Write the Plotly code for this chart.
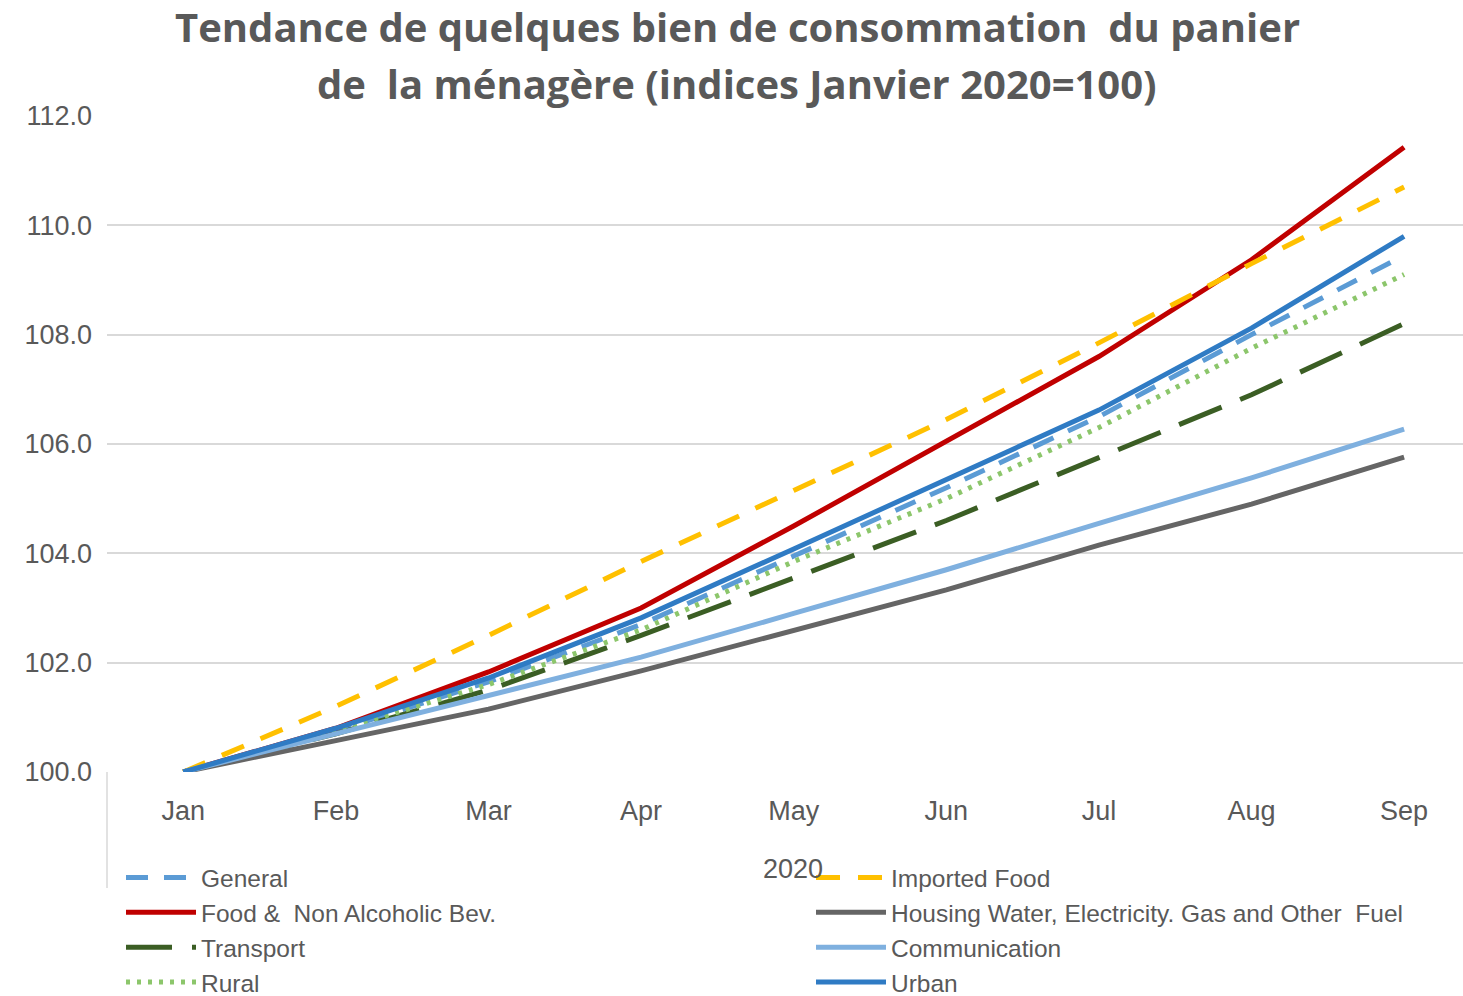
import plotly.graph_objects as go

months = ["Jan", "Feb", "Mar", "Apr", "May", "Jun", "Jul", "Aug", "Sep"]

general = [100.0, 100.75, 101.65, 102.7, 103.95, 105.2, 106.5, 108.0, 109.45]
food = [100.0, 100.8, 101.83, 103.0, 104.5, 106.05, 107.6, 109.37, 111.43]
transport = [100.0, 100.7, 101.5, 102.5, 103.55, 104.6, 105.75, 106.9, 108.2]
rural = [100.0, 100.75, 101.6, 102.6, 103.85, 105.0, 106.3, 107.75, 109.1]
imported_food = [100.0, 101.2, 102.5, 103.85, 105.15, 106.45, 107.85, 109.3, 110.7]
housing = [100.0, 100.57, 101.15, 101.85, 102.6, 103.33, 104.15, 104.9, 105.76]
communication = [100.0, 100.7, 101.4, 102.1, 102.9, 103.7, 104.55, 105.38, 106.27]
urban = [100.0, 100.8, 101.72, 102.82, 104.08, 105.34, 106.62, 108.12, 109.8]

y_ticks = [100, 102, 104, 106, 108, 110, 112]
y_ticktext = ["100.0", "102.0", "104.0", "106.0", "108.0", "110.0", "112.0"]

title_lines = ["Tendance de quelques bien de consommation  du panier",
               "de  la ménagère (indices Janvier 2020=100)"]

series = [
    # name, values, color, dash, legend column
    ("General", general, "#5B9BD5", "22px,16px", "legend"),
    ("Food &  Non Alcoholic Bev.", food, "#C00000", "solid", "legend"),
    ("Transport", transport, "#3B5E24", "46px,20px", "legend"),
    ("Rural", rural, "#8CC66B", "4px,7px", "legend"),
    ("Imported Food", imported_food, "#FFC000", "24px,18px", "legend2"),
    ("Housing Water, Electricity. Gas and Other  Fuel", housing, "#656565", "solid", "legend2"),
    ("Communication", communication, "#7FB0DF", "solid", "legend2"),
    ("Urban", urban, "#2F7BC4", "solid", "legend2"),
]

fig = go.Figure()
for name, vals, color, dash, leg in series:
    fig.add_trace(go.Scatter(
        x=months, y=vals, mode="lines", name=name,
        line=dict(color=color, width=5, dash=dash),
        legend=leg,
    ))

font_narrow = "Liberation Sans Narrow, Arial Narrow, Liberation Sans, sans-serif"

PLOT_TOP, PLOT_BOTTOM, PLOT_LEFT, PLOT_W = 116, 772, 107, 1356
PLOT_H = PLOT_BOTTOM - PLOT_TOP


def py(px):
    return (PLOT_BOTTOM - px) / PLOT_H


def pxx(px):
    return (px - PLOT_LEFT) / PLOT_W


legend_common = dict(
    orientation="v", xanchor="left",
    yref="container", y=1 - 855 / 996, yanchor="top",
    font=dict(family=font_narrow, size=24.5, color="#595959"),
    itemwidth=70, tracegroupgap=0, bgcolor="rgba(0,0,0,0)",
    traceorder="normal",
)

fig.update_layout(
    width=1463, height=996,
    paper_bgcolor="white", plot_bgcolor="white",
    margin=dict(l=PLOT_LEFT, r=0, t=PLOT_TOP, b=996 - PLOT_BOTTOM),
    xaxis=dict(
        type="category", range=[-0.5, 8.386],
        showgrid=False, showline=False, zeroline=False,
        ticks="", tickfont=dict(family=font_narrow, size=27, color="#595959"),
        ticklabelstandoff=20,
    ),
    yaxis=dict(
        range=[100, 112], tickvals=y_ticks, ticktext=y_ticktext,
        showgrid=True, gridcolor="#D9D9D9", gridwidth=2,
        zeroline=False, showline=False, ticks="",
        tickfont=dict(family=font_narrow, size=27, color="#595959"),
        ticklabelstandoff=14,
    ),
    legend=dict(x=pxx(121), **legend_common),
    legend2=dict(x=pxx(811), **legend_common),
    showlegend=True,
)

for line, ypx in zip(title_lines, [27, 83]):
    fig.add_annotation(
        text=line, xref="paper", yref="paper", x=pxx(737), y=py(ypx),
        xanchor="center", yanchor="middle", showarrow=False,
        font=dict(family="Open Sans, sans-serif", size=40, color="#595959", weight="bold"),
    )

fig.add_annotation(
    text="2020", xref="paper", yref="paper", x=pxx(793), y=py(869),
    xanchor="center", yanchor="middle", showarrow=False,
    font=dict(family=font_narrow, size=27, color="#595959"),
)

fig.add_shape(type="line", xref="paper", yref="paper", x0=0, x1=0, y0=0, y1=py(888),
              line=dict(color="#D9D9D9", width=1.5))

fig.write_html("out.html", config={"displayModeBar": False},
               post_script="document.body.style.margin='0px';")
